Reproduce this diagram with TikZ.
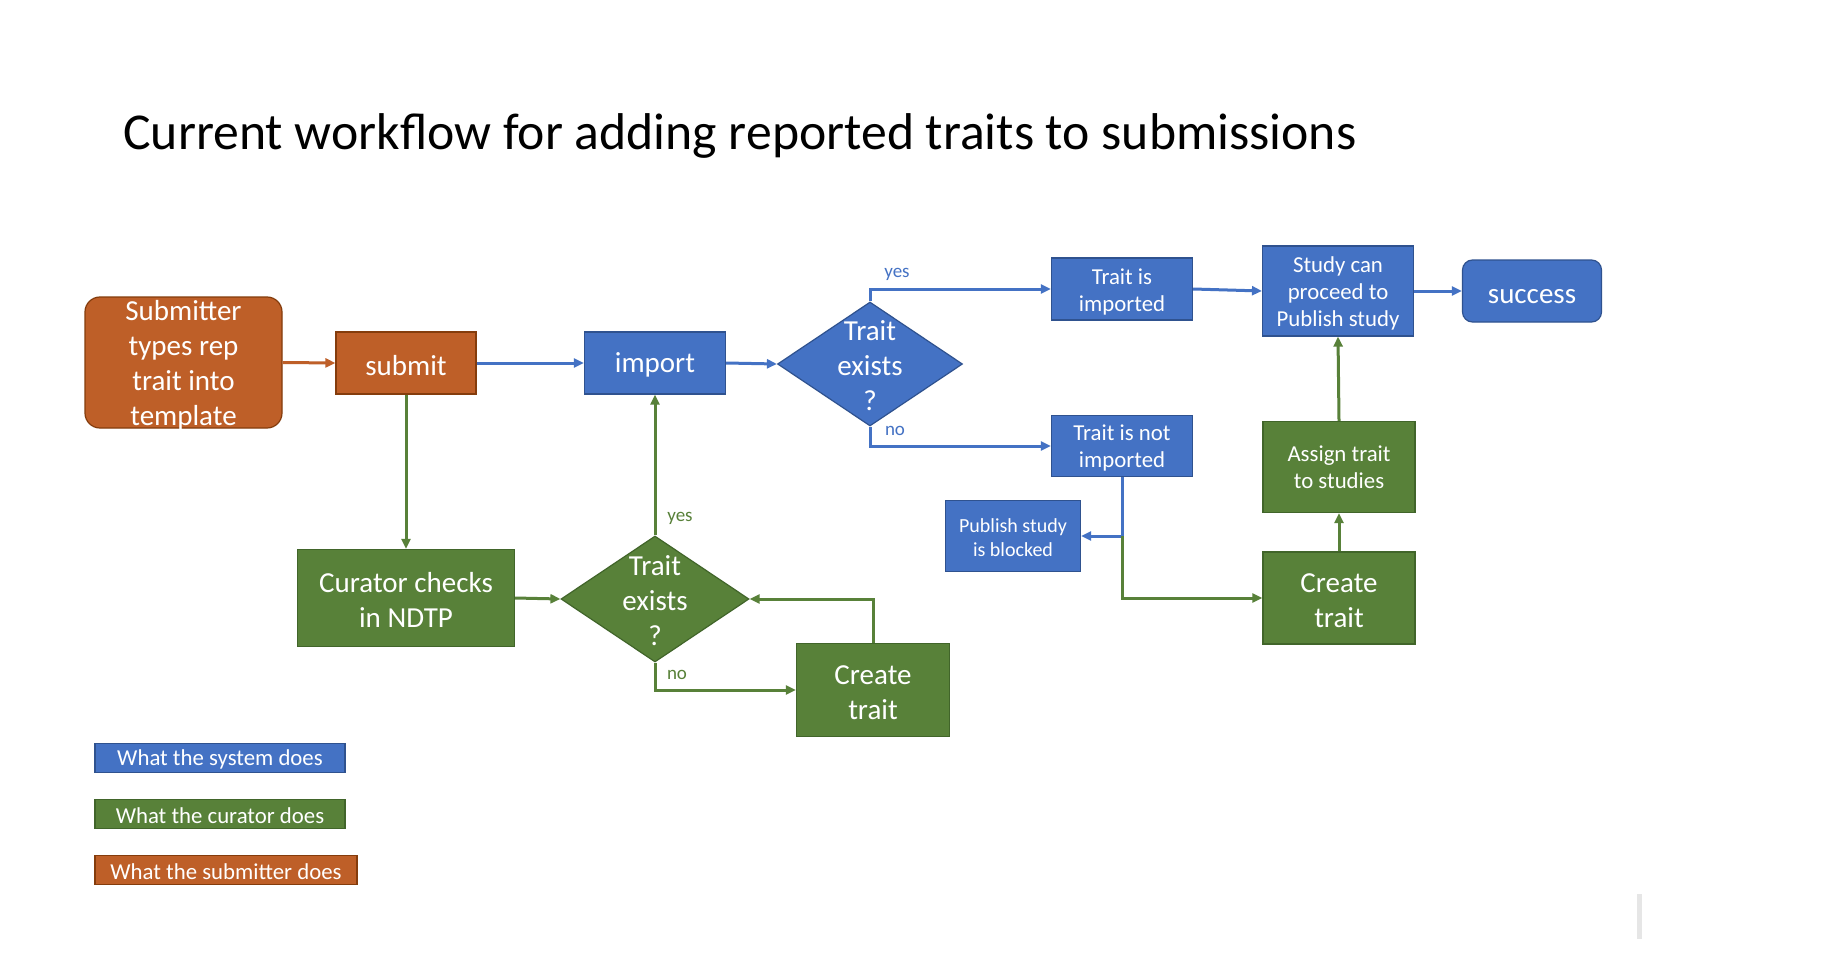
\documentclass[tikz,border=0pt]{standalone}
\usepackage{fontspec}
\setmainfont{Carlito}
\usetikzlibrary{shapes.geometric,arrows.meta}
\definecolor{cblue}{HTML}{4472C4}
\definecolor{cblueD}{HTML}{2F528F}
\definecolor{cgreen}{HTML}{588139}
\definecolor{cgreenD}{HTML}{41652A}
\definecolor{corange}{HTML}{BE5F28}
\definecolor{corangeD}{HTML}{843C0C}
\definecolor{cbar}{HTML}{E6E6E6}
\newcommand\myup[1][0.92em]{\rule{0pt}{#1}}
\newcommand\nodepth[1]{\raisebox{0pt}[\height][0pt]{#1}}
\tikzset{
  x=0.5pt,y=-0.5pt,
  base/.style={rectangle,inner sep=0pt,align=center,text=white,line width=0.6pt},
  lower/.style={execute at begin node={\rule{0pt}{0.85em}}},
  bluebox/.style={base,fill=cblue,draw=cblueD},
  greenbox/.style={base,fill=cgreen,draw=cgreenD},
  orangebox/.style={base,fill=corange,draw=corangeD},
  big/.style={font=\fontsize{14.5}{17.5}\selectfont},
  small/.style={font=\fontsize{11.4}{13.6}\selectfont},
  tiny/.style={font=\fontsize{10}{12}\selectfont},
  lbl/.style={font=\fontsize{9.5}{11}\selectfont,inner sep=0pt},
  dia/.style={diamond,inner sep=0pt,line width=0.6pt},
  conn/.style={line width=1.5pt,-{Triangle[length=5pt,width=4.5pt]}},
}
\begin{document}
\begin{tikzpicture}
\useasboundingbox (0,0) rectangle (1834,968);
\fill[white] (0,0) rectangle (1834,968);

\node[anchor=base west,inner sep=0pt,font=\fontsize{25.85}{30}\selectfont] (title) at (123,150) {Current workflow for adding reported traits to submissions};

% nodes
\node[orangebox,big,rounded corners=7.5pt,minimum width=98.5pt,minimum height=65.5pt] (sub) at (183.5,362.5) {Submitter\\types rep\\trait into\\\nodepth{template}};
\node[orangebox,big,lower,minimum width=70pt,minimum height=31pt] (submit) at (406,363) {submit};
\node[bluebox,big,lower,minimum width=70.5pt,minimum height=31pt] (import) at (655,363) {import};
\node[dia,fill=cblue,draw=cblueD,minimum width=92.5pt,minimum height=62pt] (d1) at (870,364) {};
\node[big,text=white,align=center,inner sep=0pt] (d1t) at (870,366) {Trait\\exists\\?};
\node[bluebox,small,minimum width=70.5pt,minimum height=31pt] (timp) at (1122,289) {\myup Trait is\\imported};
\node[bluebox,small,minimum width=70.5pt,minimum height=30.5pt] (tnot) at (1122,446) {\myup[0.88em]Trait is not\\imported};
\node[bluebox,small,minimum width=75.5pt,minimum height=45pt] (study) at (1338,291) {\myup Study can\\proceed to\\Publish study};
\node[bluebox,big,lower,rounded corners=5pt,minimum width=69.5pt,minimum height=31pt] (success) at (1532,291) {success};
\node[greenbox,small,minimum width=76pt,minimum height=45.5pt] (assign) at (1339,467) {Assign trait\\to studies};
\node[greenbox,big,minimum width=76pt,minimum height=46pt] (create2) at (1339,598) {\myup[0.84em]Create\\trait};
\node[bluebox,tiny,minimum width=67.5pt,minimum height=35.5pt] (blocked) at (1013,536) {\myup[0.85em]Publish study\\is blocked};
\node[greenbox,big,minimum width=108.5pt,minimum height=48.5pt] (curator) at (406,598) {\myup[0.86em]Curator checks\\in NDTP};
\node[dia,fill=cgreen,draw=cgreenD,minimum width=94pt,minimum height=63pt] (d2) at (655,599) {};
\node[big,text=white,align=center,inner sep=0pt] (d2t) at (655,601) {Trait\\exists\\?};
\node[greenbox,big,minimum width=76.5pt,minimum height=46.5pt] (create1) at (873,690) {\myup[0.86em]Create\\trait};

% legend
\node[bluebox,small,lower,minimum width=125pt,minimum height=14.5pt] (leg1) at (220,758) {What the system does};
\node[greenbox,small,lower,minimum width=125pt,minimum height=14.5pt] (leg2) at (220,814) {What the curator does};
\node[orangebox,small,lower,minimum width=131pt,minimum height=14.5pt] (leg3) at (226,870) {What the submitter does};

% connectors
\draw[conn,corange] (sub.east) -- (submit.west);
\draw[conn,cblue] (submit.east) -- (import.west);
\draw[conn,cblue] (import.east) -- (d1.west);
\draw[conn,cblue] (d1.north) |- (timp.west);
\draw[conn,cblue] (d1.south) |- (tnot.west);
\draw[conn,cblue] (timp.east) -- (study.west);
\draw[conn,cblue] (study.east) -- (success.west);
\coordinate (j) at (tnot.south |- blocked.east);
\draw[conn,cblue] (tnot.south) |- (blocked.east);
\draw[conn,cgreen] (j) |- (create2.west);
\draw[conn,cgreen] (create2.north) -- (assign.south);
\draw[conn,cgreen] (assign.north) -- (study.south);
\draw[conn,cgreen] (submit.south) -- (curator.north);
\draw[conn,cgreen] (curator.east) -- (d2.west);
\draw[conn,cgreen] (d2.north) -- (import.south);
\draw[conn,cgreen] (d2.south) |- (create1.west);
\draw[conn,cgreen] (create1.north) |- (d2.east);

% labels
\node[lbl,text=cblue] (y1) at (897,274) {yes};
\node[lbl,text=cblue] (n1) at (895,431) {no};
\node[lbl,text=cgreen] (y2) at (680,518) {yes};
\node[lbl,text=cgreen] (n2) at (677,675) {no};

% grey bar
\fill[cbar] (1637,894) rectangle (1642,939);
\end{tikzpicture}
\end{document}
